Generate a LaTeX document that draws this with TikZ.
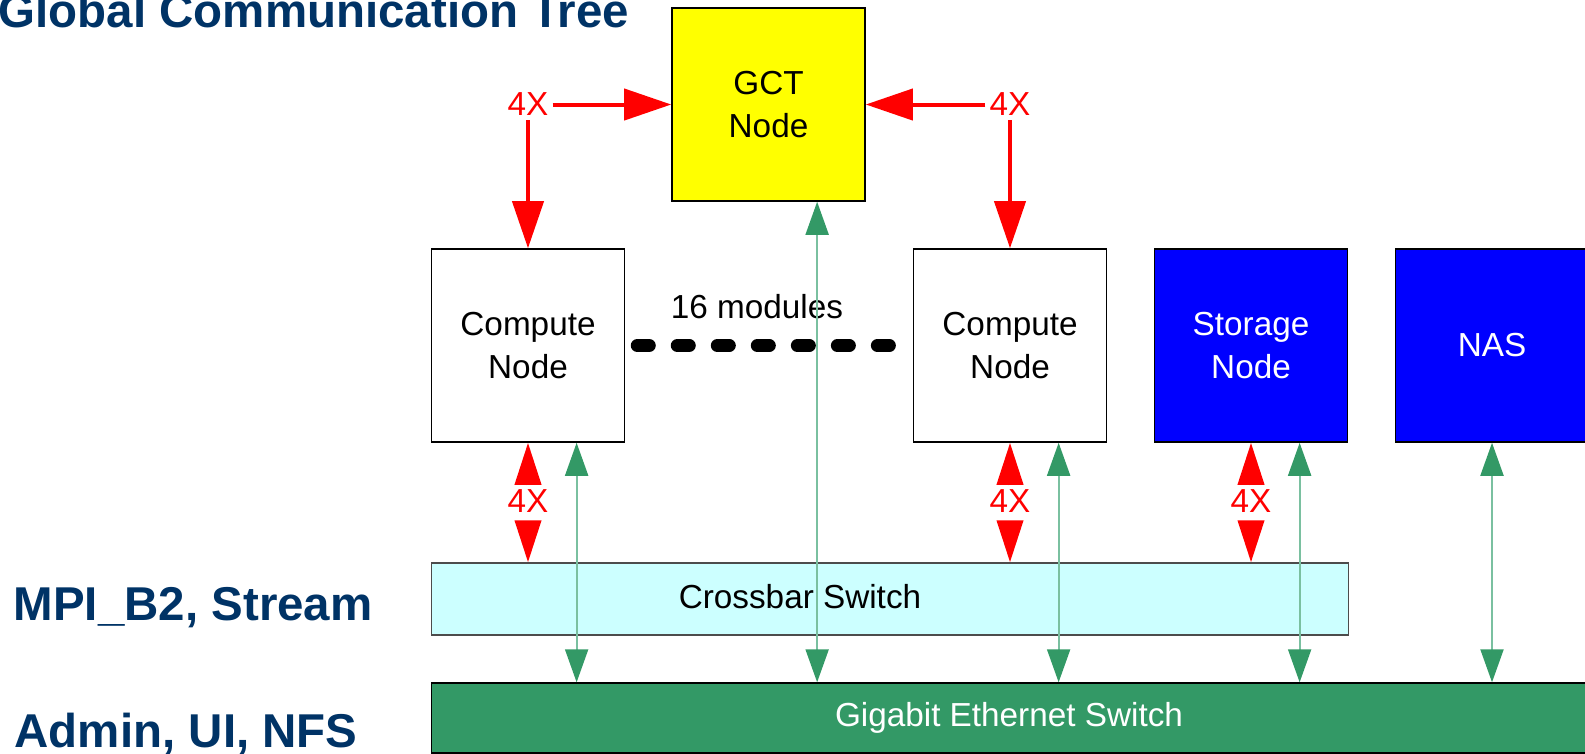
\documentclass[tikz,border=0pt]{standalone}
\usepackage{fontspec}
\setmainfont{Liberation Sans}
\usetikzlibrary{arrows.meta,calc}
\definecolor{gctyellow}{RGB}{255,255,0}
\definecolor{nodeblue}{RGB}{0,0,255}
\definecolor{xbarcyan}{RGB}{204,255,255}
\definecolor{gbegreen}{RGB}{51,153,102}
\definecolor{gbeshaft}{RGB}{122,192,160}
\definecolor{tiernavy}{RGB}{0,51,102}
\begin{document}
\begin{tikzpicture}[x=0.01cm,y=-0.01cm,
  box/.style={draw=black,line width=0.4pt,minimum width=1.93cm,minimum height=1.93cm,inner sep=0pt,align=center,font=\fontsize{9.47}{12}\selectfont},
  tier/.style={anchor=base west,text=tiernavy,inner sep=0pt,font=\fontsize{13.5}{16}\selectfont\bfseries},
  fourx/.style={text=red,inner sep=1pt,font=\fontsize{9.47}{12}\selectfont},
  ib/.style={draw=red,line width=1.14pt,-{Triangle[length=0.47cm,width=0.31cm]}},
  ibshort/.style={draw=red,line width=1.14pt,-{Triangle[length=0.42cm,width=0.26cm]}},
  gbe/.style={draw=gbeshaft,line width=0.57pt,{Triangle[length=0.33cm,width=0.23cm,color=gbegreen]}-{Triangle[length=0.33cm,width=0.23cm,color=gbegreen]}},
  modules/.style={draw=black,line width=3.7pt,line cap=round,dash pattern=on 3.41pt off 7.97pt}]
\useasboundingbox (0,0) rectangle (1585,753);
\clip (0,0) rectangle (1585,753);
% the three networks
\node[tier] (gctlbl) at (-2,27) {Global Communication Tree};
\node[tier] (mpilbl) at (13,620) {MPI\_B2, Stream};
\node[tier] (adminlbl) at (14,747) {Admin, UI, NFS};
% boxes
\node[box,fill=gctyellow] (gct) at (768.5,104.5) {GCT\\Node};
\node[box,fill=white] (cn1) at (528,345.5) {Compute\\Node};
\node[box,fill=white] (cn2) at (1010,345.5) {Compute\\Node};
\node[box,fill=nodeblue,text=white] (stor) at (1251,345.5) {Storage\\Node};
\node[box,fill=nodeblue,text=white] (nas) at (1492,345.5) {NAS};
\node[draw=black!70,line width=0.4pt,fill=xbarcyan,minimum width=9.16cm,minimum height=0.72cm,inner sep=0pt] (xbar) at (890,599) {};
\node[font=\fontsize{9.47}{12}\selectfont] (xbartxt) at (800,597) {Crossbar Switch};
\node[draw=black,line width=0.4pt,fill=gbegreen,text=white,minimum width=11.54cm,minimum height=0.7cm,inner sep=0pt,font=\fontsize{9.47}{12}\selectfont] (gbe) at (1009,718) {Gigabit Ethernet Switch};
% 16 modules between the compute nodes
\draw[modules,shorten <=0.12cm,shorten >=0.2cm] (cn1.east) -- (cn2.west);
\node[font=\fontsize{9.47}{12}\selectfont] (modtxt) at (757,307) {16 modules};
% 4X links of the tree
\node[fourx] (ta) at (528,104.5) {4X};
\node[fourx] (tb) at (1010,104.5) {4X};
\draw[ib] (ta) -- (gct);
\draw[ib] (ta) -- (cn1);
\draw[ib] (tb) -- (gct);
\draw[ib] (tb) -- (cn2);
% 4X links to the crossbar
\node[fourx] (ba) at (528,501) {4X};
\node[fourx] (bb) at (1010,501) {4X};
\node[fourx] (bc) at (1251,501) {4X};
\foreach \l/\n in {ba/cn1,bb/cn2,bc/stor}{
  \draw[ibshort] (\l) -- (\n);
  \draw[ibshort,shorten <=0.05cm] (\l) -- (\l |- xbar.north);
}
% gigabit ethernet
\coordinate (g1) at ($(cn1.south)!.5!(cn1.south east)$);
\coordinate (g2) at ($(gct.south)!.5!(gct.south east)$);
\coordinate (g3) at ($(cn2.south)!.5!(cn2.south east)$);
\coordinate (g4) at ($(stor.south)!.5!(stor.south east)$);
\coordinate (g5) at (nas.south);
\foreach \g in {g1,g2,g3,g4,g5}
  \draw[gbe] (\g) -- (\g |- gbe.north);
\end{tikzpicture}
\end{document}
